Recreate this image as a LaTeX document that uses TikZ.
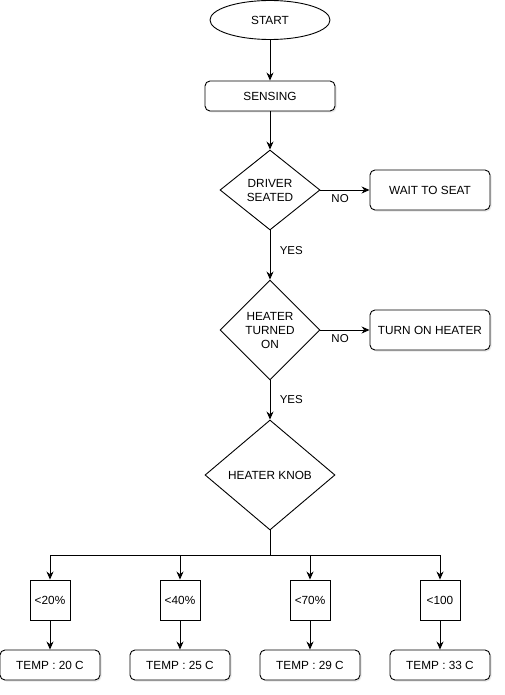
\documentclass[tikz,border=0pt]{standalone}
\usepackage{fontspec}
\setmainfont{Liberation Sans}
\usetikzlibrary{shapes.geometric, arrows.meta, shadows}

\begin{document}
\begin{tikzpicture}[x=1pt, y=-1pt,
			>={Stealth[length=8pt,width=7pt]},   %Pfeilspitzen
			line width=0.9pt,
			font=\fontsize{11.8}{14}\selectfont,
			box/.style={draw, rounded corners=5pt, fill=white, drop shadow={shadow xshift=1.5pt, shadow yshift=-1.5pt, opacity=0.2}, minimum width=#1, minimum height=30pt, inner sep=0pt},
			box/.default=130pt,
			outbox/.style={box=120pt, minimum height=40pt},
			decision/.style={draw, diamond, fill=white, aspect=1, inner sep=0pt, align=center},
			rangebox/.style={draw, fill=white, minimum width=40pt, minimum height=40pt, inner sep=0pt},
			lbl/.style={font=\fontsize{11.5}{13}\selectfont}]
			%Bildbereich
			\useasboundingbox (0,0) rectangle (504,695);
			% Knoten
			\node[draw, ellipse, minimum width=120pt, minimum height=39pt, inner sep=0pt] (start) at (270,20) {START};
			\node[box] (sensing) at (270,96) {SENSING};
			\node[decision, minimum width=100pt, minimum height=80pt] (seated) at (270,190) {DRIVER\\SEATED};
			\node[outbox] (wait) at (430,190) {WAIT TO SEAT};
			\node[decision, minimum width=100pt, minimum height=100pt] (heater) at (270,330) {HEATER\\TURNED\\ON};
			\node[outbox] (turnon) at (430,330) {TURN ON HEATER};
			\node[decision, minimum width=130pt, minimum height=110pt] (knob) at (270,475) {HEATER KNOB};
			\coordinate (fork) at (270,555);
			% Stufen
			\foreach \name/\x/\lim/\temp in {a/50/<20\%/20, b/180/<40\%/25, c/310/<70\%/29, d/440/<100/33} {
				\node[rangebox] (lim\name) at (\x,600) {\lim};
				\node[box=100pt] (temp\name) at (\x,665) {TEMP : \temp\ C};
				\draw[->] (lim\name.south) -- (temp\name.north);
			}
			% Verbindungen
			\draw[->] (start) -- (sensing);
			\draw[->] (sensing) -- (seated);
			\draw[->] (seated) -- node[lbl, pos=0.4, below=1pt] {NO} (wait);
			\draw[->] (seated) -- node[lbl, pos=0.4, right=6pt] {YES} (heater);
			\draw[->] (heater) -- node[lbl, pos=0.4, below=1pt] {NO} (turnon);
			\draw[->] (heater) -- node[lbl, pos=0.5, right=6pt] {YES} (knob);
			\draw (knob.south) -- (fork);
			\draw (lima.north |- fork) -- (limd.north |- fork);
			\foreach \name in {a,b,c,d} \draw[->] (lim\name.north |- fork) -- (lim\name.north);
		\end{tikzpicture}
\end{document}
